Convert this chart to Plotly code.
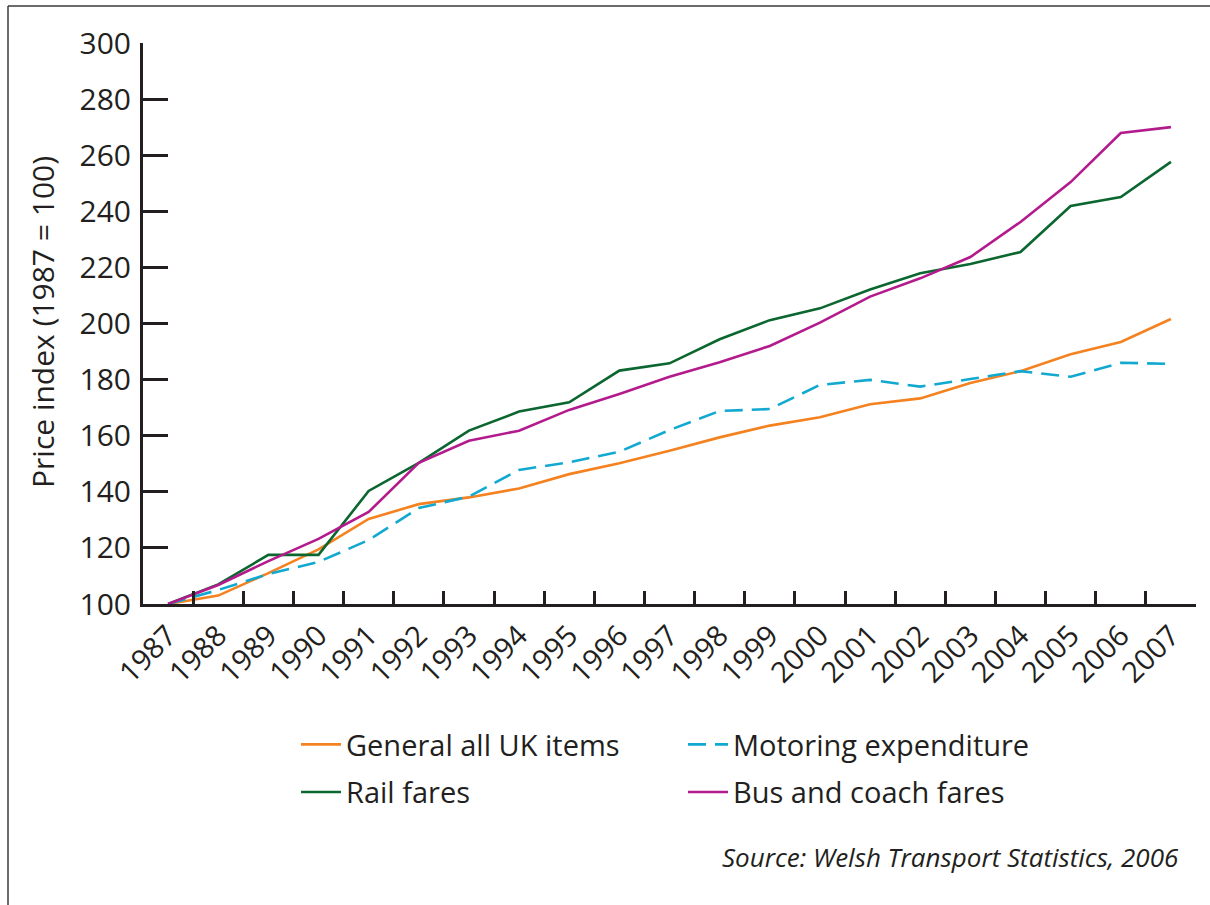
import plotly.graph_objects as go

years = [str(y) for y in range(1987, 2008)]
general = [100, 103, 111, 119.5, 130.3, 135.6, 138, 141.2, 146.3, 150.2, 154.6,
           159.4, 163.6, 166.6, 171.2, 173.3, 178.8, 183, 189, 193.4, 201.6]
motoring = [100, 105, 110.7, 115, 122.8, 134.2, 138.3, 147.8, 150.5, 154.3, 162,
            168.8, 169.5, 178.1, 179.9, 177.5, 180.2, 183, 181, 186, 185.6]
rail = [100, 107, 117.5, 117.5, 140.3, 150.3, 161.8, 168.6, 171.9, 183.2, 185.8,
        194.4, 201.2, 205.4, 212.1, 217.9, 221.2, 225.5, 241.9, 245.1, 257.6]
bus = [100, 106.8, 115.3, 123.2, 132.8, 150.3, 158.2, 161.8, 169.2, 174.9, 181,
       186.2, 192, 200.3, 209.6, 216.1, 223.7, 236.2, 250.4, 267.9, 270]
y_ticks = list(range(100, 301, 20))

TXT = "#231f20"
FONT = "Open Sans"
W, H = 1210, 905
L, R, T, B = 143, 14, 43, 301
pw, ph = W - L - R, H - T - B

def px(x):
    return (x - L) / pw

def py(y):
    return (H - B - y) / ph

fig = go.Figure()
fig.add_trace(go.Scatter(x=years, y=general, mode="lines", name="General all UK items",
                         line=dict(color="#f58220", width=2.6), legend="legend", legendgroup="a"))
fig.add_trace(go.Scatter(x=years, y=rail, mode="lines", name="Rail fares",
                         line=dict(color="#0b6630", width=2.6), legend="legend", legendgroup="b"))
fig.add_trace(go.Scatter(x=years, y=motoring, mode="lines", name="Motoring expenditure",
                         line=dict(color="#12a9d1", width=2.6, dash="18px,9px"),
                         legend="legend2", legendgroup="c"))
fig.add_trace(go.Scatter(x=years, y=bus, mode="lines", name="Bus and coach fares",
                         line=dict(color="#b31b8d", width=2.6), legend="legend2", legendgroup="d"))

legend_common = dict(orientation="v", yanchor="top", xanchor="left",
                     font=dict(family=FONT, size=29, color=TXT),
                     bgcolor="rgba(0,0,0,0)", itemwidth=40, tracegroupgap=7,
                     traceorder="grouped")

fig.update_layout(
    width=W, height=H,
    margin=dict(l=L, r=R, t=T, b=B, autoexpand=False),
    paper_bgcolor="white", plot_bgcolor="white",
    font=dict(family=FONT, color=TXT, size=29),
    showlegend=True,
    legend=dict(x=px(296), y=py(719), **legend_common),
    legend2=dict(x=px(683), y=py(719), **legend_common),
    xaxis=dict(type="category", range=[-0.5, 20.5], tickson="boundaries",
               ticks="inside", ticklen=13, tickwidth=2.5, tickcolor=TXT,
               showline=True, linewidth=3, linecolor=TXT, showgrid=False,
               zeroline=False, tickangle=-45,
               tickfont=dict(family=FONT, size=29, color=TXT), automargin=False),
    yaxis=dict(range=[100, 300], tickvals=y_ticks, ticks="inside", ticklen=25,
               tickwidth=2.5, tickcolor=TXT, showline=True, linewidth=3,
               linecolor=TXT, showgrid=False, zeroline=False,
               ticklabelstandoff=3,
               tickfont=dict(family=FONT, size=30, color=TXT),
               automargin=False),
)

fig.add_annotation(text="Price index (1987 = 100)", textangle=-90,
                   xref="paper", yref="paper", x=px(42), y=py(322),
                   xanchor="center", yanchor="middle", showarrow=False,
                   font=dict(family=FONT, size=30, color=TXT))

fig.add_annotation(text="<i>Source: Welsh Transport Statistics, 2006</i>",
                   xref="paper", yref="paper", x=px(1181), y=py(857),
                   xanchor="right", yanchor="middle", showarrow=False,
                   font=dict(family=FONT, size=26, color=TXT))

frame = dict(color="#3a3a3a", width=1.5)
fig.add_shape(type="line", xref="paper", yref="paper",
              x0=px(8), x1=px(1212), y0=py(6), y1=py(6), line=frame, layer="below")
fig.add_shape(type="line", xref="paper", yref="paper",
              x0=px(8), x1=px(8), y0=py(6), y1=py(910), line=frame, layer="below")

fig.write_html("out.html", config={"displayModeBar": False},
               post_script="document.body.style.margin='0';")
